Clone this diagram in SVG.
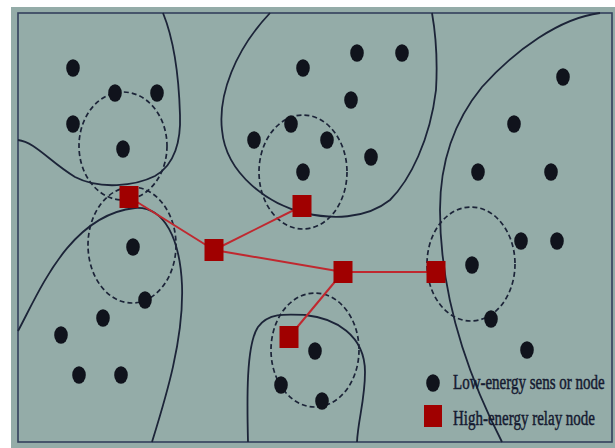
<svg xmlns="http://www.w3.org/2000/svg" width="615" height="448" viewBox="0 0 615 448">
  <style>
    .bound { fill: none; stroke: #1c2438; stroke-width: 1.8; }
    .range { fill: none; stroke: #1c2438; stroke-width: 1.7; stroke-dasharray: 5 3; }
    .sensor { fill: #10131c; }
    .relay { fill: #a00000; }
    .link { stroke: #c0282f; stroke-width: 2; fill: none; }
    .label { font-family: "Liberation Serif", "Times New Roman", serif; font-size: 15px; fill: #141a30; stroke: #141a30; stroke-width: 0.35; }
  </style>
  <defs>
    <ellipse id="dot" cx="0" cy="0" rx="6.8" ry="8.8"/>
    <rect id="sq" x="-9.5" y="-11" width="19" height="22"/>
  </defs>

  <!-- field -->
  <rect x="11" y="7" width="604" height="441" fill="#94aca8"/>
  <rect x="18" y="13" width="594" height="429" fill="none" stroke="#33405c" stroke-width="1.6"/>

  <!-- cluster boundaries -->
  <g id="boundaries">
    <path class="bound" d="M18,140 C35,142 50,162 75,177 C100,190 135,186 155,176 C175,165 181,140 180,115 C179,80 174,40 163,13"/>
    <path class="bound" d="M18,331 C40,290 70,215 135,208 C165,206 180,240 182,285 C184,340 165,400 152,442"/>
    <path class="bound" d="M270,13 C235,50 218,95 222,130 C226,175 270,205 305,213 C330,219 365,220 390,200 C410,180 430,140 436,90 C438,55 435,30 432,13"/>
    <path class="bound" d="M600,13 C560,18 515,50 482,87 C455,120 440,160 440,210 C440,290 465,370 502,442"/>
    <path class="bound" d="M248,442 C247,400 246,345 258,327 C268,313 285,314 305,315 C335,318 365,335 365,372 C365,400 358,420 357,442"/>
  </g>

  <!-- relay coverage ranges -->
  <g id="ranges">
    <ellipse class="range" cx="123" cy="146" rx="44" ry="54"/>
    <ellipse class="range" cx="132" cy="245" rx="44" ry="58"/>
    <ellipse class="range" cx="303" cy="172" rx="44" ry="57"/>
    <ellipse class="range" cx="471" cy="264" rx="44" ry="57"/>
    <ellipse class="range" cx="315" cy="350" rx="44" ry="57"/>
  </g>

  <!-- relay links -->
  <g id="links">
    <line class="link" x1="129" y1="197" x2="214" y2="250"/>
    <line class="link" x1="214" y1="250" x2="302" y2="206"/>
    <line class="link" x1="214" y1="250" x2="343" y2="272"/>
    <line class="link" x1="343" y1="272" x2="436" y2="272"/>
    <line class="link" x1="343" y1="272" x2="289" y2="337"/>
  </g>

  <!-- sensor nodes -->
  <g id="sensors" class="sensor">
    <use href="#dot" x="73" y="68"/>
    <use href="#dot" x="115" y="93"/>
    <use href="#dot" x="157" y="93"/>
    <use href="#dot" x="73" y="124"/>
    <use href="#dot" x="123" y="149"/>
    <use href="#dot" x="303" y="68"/>
    <use href="#dot" x="357" y="53"/>
    <use href="#dot" x="402" y="53"/>
    <use href="#dot" x="351" y="100"/>
    <use href="#dot" x="291" y="124"/>
    <use href="#dot" x="327" y="140"/>
    <use href="#dot" x="254" y="140"/>
    <use href="#dot" x="371" y="157"/>
    <use href="#dot" x="303" y="172"/>
    <use href="#dot" x="563" y="77"/>
    <use href="#dot" x="514" y="124"/>
    <use href="#dot" x="478" y="172"/>
    <use href="#dot" x="551" y="172"/>
    <use href="#dot" x="521" y="241"/>
    <use href="#dot" x="557" y="241"/>
    <use href="#dot" x="472" y="265"/>
    <use href="#dot" x="491" y="319"/>
    <use href="#dot" x="527" y="350"/>
    <use href="#dot" x="133" y="247"/>
    <use href="#dot" x="145" y="300"/>
    <use href="#dot" x="103" y="318"/>
    <use href="#dot" x="61" y="335"/>
    <use href="#dot" x="79" y="375"/>
    <use href="#dot" x="121" y="375"/>
    <use href="#dot" x="315" y="351"/>
    <use href="#dot" x="281" y="385"/>
    <use href="#dot" x="322" y="401"/>
  </g>

  <!-- relay nodes -->
  <g id="relays" class="relay">
    <g id="relay1"><use href="#sq" x="129" y="197"/></g>
    <g id="relay2"><use href="#sq" x="214" y="250"/></g>
    <g id="relay3"><use href="#sq" x="302" y="206"/></g>
    <g id="relay4"><use href="#sq" x="343" y="272"/></g>
    <g id="relay5"><use href="#sq" x="436" y="272"/></g>
    <g id="relay6"><use href="#sq" x="289" y="337"/></g>
  </g>

  <!-- legend -->
  <g id="legend">
    <use href="#dot" x="433" y="383" class="sensor"/>
    <text class="label" transform="translate(453,389) scale(1,1.35)">Low-energy sens or node</text>
    <rect x="424" y="405" width="18" height="22" class="relay"/>
    <text class="label" transform="translate(453,425) scale(1,1.35)">High-energy relay node</text>
  </g>
</svg>
